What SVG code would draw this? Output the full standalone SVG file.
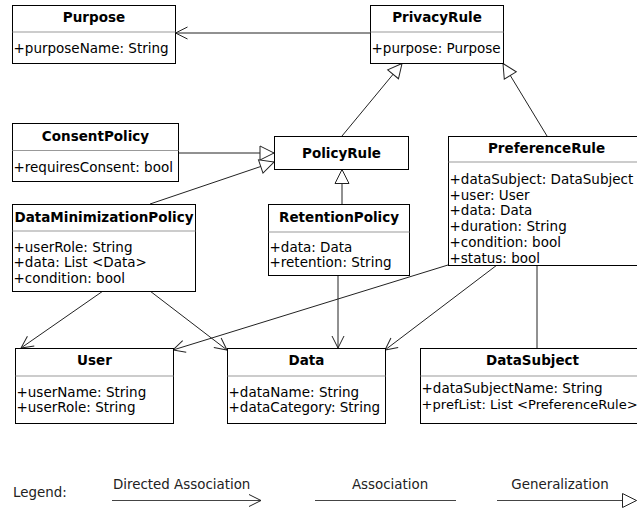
<svg xmlns="http://www.w3.org/2000/svg" width="637" height="510" viewBox="0 0 637 510">
<style>
text{font-family:"DejaVu Sans","Verdana",sans-serif;font-size:13.5px;fill:#000}
.t{font-weight:bold;text-anchor:middle}
.box{fill:#fff;stroke:#000;stroke-width:1}
.div{stroke:#999;stroke-width:1}
.c{fill:none;stroke:#222;stroke-width:1}
.lg{fill:#222;font-size:13.4px}
.ll{fill:none;stroke:#444;stroke-width:1}
</style>
<defs>
<marker id="open" markerUnits="userSpaceOnUse" viewBox="-14 -8 16 16" markerWidth="16" markerHeight="16" refX="0" refY="0" orient="auto" overflow="visible">
<path d="M-12,-6 L0,0 L-12,6" fill="none" stroke="#222" stroke-width="1"/>
</marker>
<marker id="gen" markerUnits="userSpaceOnUse" viewBox="-16 -8 18 16" markerWidth="18" markerHeight="16" refX="0" refY="0" orient="auto" overflow="visible">
<path d="M0,0 L-14,-7 L-14,7 Z" fill="#fff" stroke="#222" stroke-width="1"/>
</marker>
</defs>
<rect width="637" height="510" fill="#fff"/>
<g id="connectors">
<line class="c" x1="370" y1="33" x2="175.5" y2="33" marker-end="url(#open)"/>
<line class="c" x1="178" y1="153" x2="274" y2="153" marker-end="url(#gen)"/>
<line class="c" x1="150" y1="204" x2="274" y2="162" marker-end="url(#gen)"/>
<line class="c" x1="342" y1="136" x2="402" y2="63.5" marker-end="url(#gen)"/>
<line class="c" x1="547" y1="136" x2="503" y2="63.5" marker-end="url(#gen)"/>
<line class="c" x1="342" y1="204" x2="342" y2="169.5" marker-end="url(#gen)"/>
<line class="c" x1="103" y1="291" x2="21" y2="348" marker-end="url(#open)"/>
<line class="c" x1="150" y1="291" x2="227" y2="350" marker-end="url(#open)"/>
<line class="c" x1="448" y1="265" x2="173" y2="350" marker-end="url(#open)"/>
<line class="c" x1="338" y1="275" x2="338" y2="348" marker-end="url(#open)"/>
<line class="c" x1="497" y1="265" x2="385" y2="350" marker-end="url(#open)"/>
<line class="c" x1="537" y1="265" x2="537" y2="348"/>
</g>
<g id="Purpose">
<rect class="box" x="12.5" y="5.5" width="163" height="58"/>
<line class="div" x1="12.5" y1="32" x2="175.5" y2="32"/>
<text class="t" x="94" y="22">Purpose</text>
<text x="13.5" y="53">+purposeName: String</text>
</g>
<g id="PrivacyRule">
<rect class="box" x="370.5" y="5.5" width="133" height="58"/>
<line class="div" x1="370.5" y1="32" x2="503.5" y2="32"/>
<text class="t" x="437" y="22">PrivacyRule</text>
<text x="371.5" y="53">+purpose: Purpose</text>
</g>
<g id="ConsentPolicy">
<rect class="box" x="12.5" y="123.5" width="166" height="58"/>
<line class="div" x1="12.5" y1="150.5" x2="178.5" y2="150.5"/>
<text class="t" x="95.5" y="141">ConsentPolicy</text>
<text x="13.5" y="172">+requiresConsent: bool</text>
</g>
<g id="PolicyRule">
<rect class="box" x="274.5" y="136.5" width="134" height="33"/>
<text class="t" x="341.5" y="158">PolicyRule</text>
</g>
<g id="DataMinimizationPolicy">
<rect class="box" x="12.5" y="204.5" width="183" height="87"/>
<line class="div" x1="12.5" y1="231" x2="195.5" y2="231"/>
<text class="t" x="104" y="221.5">DataMinimizationPolicy</text>
<text x="13.5" y="251.5">+userRole: String</text>
<text x="13.5" y="267">+data: List &lt;Data&gt;</text>
<text x="13.5" y="283">+condition: bool</text>
</g>
<g id="RetentionPolicy">
<rect class="box" x="268.5" y="204.5" width="141" height="71"/>
<line class="div" x1="268.5" y1="232" x2="409.5" y2="232"/>
<text class="t" x="339" y="221.5">RetentionPolicy</text>
<text x="269.5" y="251.5">+data: Data</text>
<text x="269.5" y="267">+retention: String</text>
</g>
<g id="PreferenceRule">
<rect class="box" x="448.5" y="136.5" width="196" height="129"/>
<line class="div" x1="448.5" y1="162" x2="644.5" y2="162"/>
<text class="t" x="546.5" y="153">PreferenceRule</text>
<text x="449.5" y="184">+dataSubject: DataSubject</text>
<text x="449.5" y="199.7">+user: User</text>
<text x="449.5" y="215.4">+data: Data</text>
<text x="449.5" y="231.1">+duration: String</text>
<text x="449.5" y="246.8">+condition: bool</text>
<text x="449.5" y="262.5">+status: bool</text>
</g>
<g id="User">
<rect class="box" x="15.5" y="348.5" width="158" height="75"/>
<line class="div" x1="15.5" y1="376" x2="173.5" y2="376"/>
<text class="t" x="94.5" y="365">User</text>
<text x="16.5" y="396.5">+userName: String</text>
<text x="16.5" y="412">+userRole: String</text>
</g>
<g id="Data">
<rect class="box" x="227.5" y="348.5" width="158" height="75"/>
<line class="div" x1="227.5" y1="376" x2="385.5" y2="376"/>
<text class="t" x="306.5" y="365">Data</text>
<text x="228.5" y="396.5">+dataName: String</text>
<text x="228.5" y="412">+dataCategory: String</text>
</g>
<g id="DataSubject">
<rect class="box" x="420.5" y="348.5" width="224" height="75"/>
<line class="div" x1="420.5" y1="376" x2="644.5" y2="376"/>
<text class="t" x="532.5" y="365">DataSubject</text>
<text x="421.5" y="393">+dataSubjectName: String</text>
<text x="421.5" y="408.5" style="font-size:13.1px">+prefList: List &lt;PreferenceRule&gt;</text>
</g>
<g id="legend">
<text class="lg" x="13" y="497">Legend:</text>
<text class="lg" x="113" y="489">Directed Association</text>
<line class="ll" x1="112" y1="500.5" x2="261" y2="500.5" marker-end="url(#open)"/>
<text class="lg" x="390" y="489" text-anchor="middle">Association</text>
<line class="ll" x1="315" y1="500.5" x2="456" y2="500.5"/>
<text class="lg" x="560" y="489" text-anchor="middle">Generalization</text>
<line class="ll" x1="497" y1="500.5" x2="636.5" y2="500.5" marker-end="url(#gen)"/>
</g>
</svg>
